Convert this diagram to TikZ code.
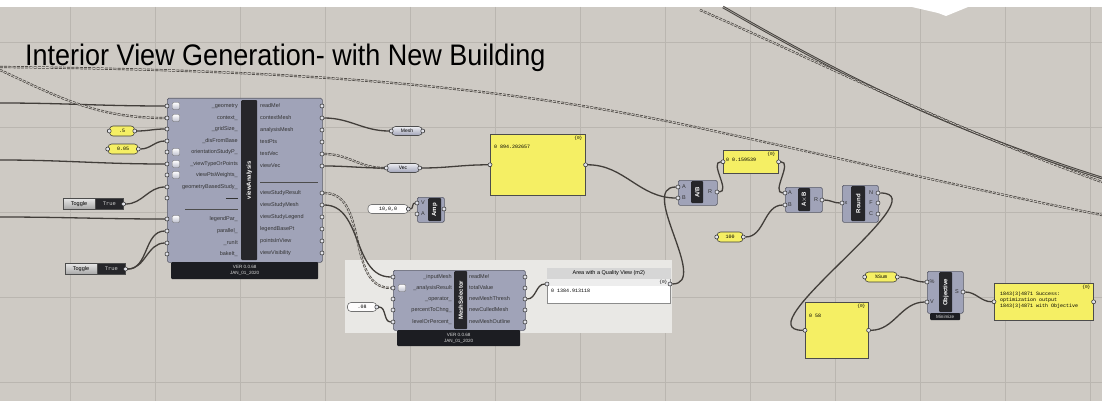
\documentclass[tikz,border=0pt]{standalone}
\usepackage{fontspec}
\setmainfont{Liberation Sans}
\newfontfamily\panelfont{Liberation Mono}
\usepackage{tikz}
\usetikzlibrary{positioning,calc}

\definecolor{canvas}{RGB}{206,202,196}
\definecolor{gridcol}{RGB}{186,182,176}
\definecolor{compfill}{RGB}{160,163,184}
\definecolor{compedge}{RGB}{88,90,104}
\definecolor{stripdark}{RGB}{38,38,42}
\definecolor{bardark}{RGB}{28,29,34}
\definecolor{panelyellow}{RGB}{245,239,100}
\definecolor{wirecol}{RGB}{66,62,58}
\definecolor{groupfill}{RGB}{233,232,229}

\pgfdeclarelayer{bg}
\pgfdeclarelayer{wires}
\pgfsetlayers{bg,wires,main}

\begin{document}
\begin{tikzpicture}[x=1pt,y=-1pt,
    comp/.style={draw=compedge,fill=compfill,rounded corners=1.5pt,line width=0.6pt,anchor=north west,inner sep=0pt},
    namestrip/.style={fill=stripdark,rounded corners=1pt,anchor=north west,inner sep=0pt},
    stripname/.style={text=white,font=\fontsize{6}{6}\selectfont\bfseries,rotate=90,inner sep=0pt},
    verbar/.style={fill=bardark,anchor=north west,inner sep=0pt,rounded corners=1pt},
    vertxt/.style={text=white!85!black,font=\fontsize{4.6}{6}\selectfont,align=center,inner sep=0pt},
    inlab/.style={anchor=east,inner sep=0pt,font=\fontsize{5.5}{6}\selectfont,text=black!80},
    outlab/.style={anchor=west,inner sep=0pt,font=\fontsize{5.5}{6}\selectfont,text=black!80},
    grip/.style={circle,draw=black!85,fill=white!70!compfill,line width=0.5pt,inner sep=0pt,minimum size=4pt},
    icon/.style={draw=black!55,top color=white,bottom color=compfill!70!white,rounded corners=1pt,inner sep=0pt,minimum size=7pt},
    wire/.style={draw=wirecol,line width=1.3pt},
    tree/.style={draw=wirecol,line width=0.7pt,double=canvas,double distance=0.8pt,dash pattern=on 3pt off 1.2pt},
    slider/.style={draw=black!75,fill=panelyellow,rounded corners=3.5pt,line width=0.6pt,inner sep=0pt,minimum height=10pt,font=\fontsize{5}{5}\panelfont},
    whitecap/.style={slider,fill=white!95!canvas,draw=black!55},
    capsule/.style={draw=black!70,top color=white!80!compfill,bottom color=compfill,rounded corners=4pt,line width=0.6pt,inner sep=0pt,minimum height=9pt,font=\fontsize{5}{5}\selectfont},
    panel/.style={draw=black!70,fill=panelyellow,line width=0.6pt,anchor=north west,inner sep=0pt},
    paneltxt/.style={anchor=north west,inner sep=0pt,font=\fontsize{5}{6}\panelfont,align=left},
    panelhdr/.style={anchor=north east,inner sep=0pt,font=\fontsize{4.5}{5}\panelfont},
    togname/.style={draw=black!70,top color=white!90!black,bottom color=black!35,inner sep=0pt,minimum width=32pt,minimum height=11pt,font=\fontsize{5.5}{6}\selectfont},
    togval/.style={draw=black!70,fill=stripdark,text=white!80!black,inner sep=0pt,minimum width=28pt,minimum height=11pt,font=\fontsize{5.5}{6}\panelfont}
  ]
\useasboundingbox (0,0) rectangle (1102,401);

% canvas and grid
\begin{pgfonlayer}{bg}
  \fill[white] (0,0) rectangle (1102,401);
  \fill[canvas] (0,7) rectangle (1102,401);
  \foreach \gx in {70,155,...,1090} \draw[gridcol,line width=0.6pt] (\gx,7) -- (\gx,401);
  \foreach \gy in {42,127,...,382} \draw[gridcol,line width=0.6pt] (0,\gy) -- (1102,\gy);
  \fill[white] (912,7) -- (968,7) -- (946,16) -- (938,13) -- cycle;
  \node[anchor=base west,inner sep=0pt,yscale=1.1,font=\fontsize{27}{27}\selectfont] (title) at (25,66) {Interior View Generation- with New Building};
  \fill[groupfill] (345,260) rectangle (672,333);
\end{pgfonlayer}

% viewAnalysis
\node[comp,minimum width=155pt,minimum height=164pt] (va) at (167,98) {};
\node[namestrip,minimum width=16pt,minimum height=160pt] (vastrip) at (241,100) {};
\node[stripname] (vaname) at (vastrip.center) {viewAnalysis};
\node[verbar,minimum width=147pt,minimum height=17pt] (vaver) at (171,262) {};
\node[vertxt] (vavertxt) at (vaver.center) {VER 0.0.68\\JAN\_01\_2020};
\foreach \y/\lab [count=\i] in {106/\_geometry,118/context\_,129/\_gridSize\_,141/\_disFromBase,152/orientationStudyP\_,164/\_viewTypeOrPoints,175/viewPtsWeights\_,187/geometryBasedStudy\_,198/\rule{12pt}{0.5pt},219/legendPar\_,231/parallel\_,243/\_runIt,254/bakeIt\_}{
  \node[inlab] (vainlab\i) at (238,\y) {\lab};
  \node[grip] (vain\i) at (167,\y) {};
}
\foreach \y/\lab [count=\i] in {106/readMe!,118/contextMesh,130/analysisMesh,142/testPts,154/testVec,166/viewVec,193/viewStudyResult,205/viewStudyMesh,217/viewStudyLegend,229/legendBasePt,241/pointsInView,253/viewVisibility}{
  \node[outlab] (vaoutlab\i) at (260,\y) {\lab};
  \node[grip] (vaout\i) at (322,\y) {};
}
\foreach \y [count=\i] in {106,118,152,164,175,219} \node[icon] (vaicon\i) at (176,\y) {};
\draw[black!70,line width=0.6pt] (185,209) -- (238,209);
\draw[black!70,line width=0.6pt] (260,182) -- (318,182);

% inputs on the left
\node[slider,minimum width=25pt] (sl1) at (122,131) {.5};
\node[slider,minimum width=30pt] (sl2) at (123,149) {0.05};
\node[grip] (sl1i) at (sl1.west) {};
\node[grip] (sl1o) at (sl1.east) {};
\node[grip] (sl2i) at (sl2.west) {};
\node[grip] (sl2o) at (sl2.east) {};
\node[togname] (tg1) at (79,204) {Toggle};
\node[togval,right=0pt of tg1] (tg1v) {True};
\node[grip] (tg1o) at (tg1v.east) {};
\node[togname] (tg2) at (81,269) {Toggle};
\node[togval,right=0pt of tg2] (tg2v) {True};
\node[grip] (tg2o) at (tg2v.east) {};

% params after viewAnalysis
\node[capsule,minimum width=31pt] (mesh) at (407,131) {Mesh};
\node[grip] (meshin) at (mesh.west) {};
\node[grip] (meshout) at (mesh.east) {};
\node[capsule,minimum width=33pt] (vec) at (403,168) {Vec};
\node[grip] (vecin) at (vec.west) {};
\node[grip] (vecout) at (vec.east) {};
\node[whitecap,minimum width=40pt,minimum height=9pt] (v10) at (388,209) {10,0,0};
\node[grip] (v10o) at (v10.east) {};
\node[comp,minimum width=27pt,minimum height=25pt] (amp) at (417,197) {};
\node[namestrip,minimum width=13pt,minimum height=23pt] (ampstrip) at (428,198) {};
\node[stripname] (ampname) at (ampstrip.center) {Amp};
\node[inlab,anchor=center] (ampl1) at (423,203) {V};
\node[inlab,anchor=center] (ampl2) at (423,214) {A};
\node[grip] (ampin1) at (417,203) {};
\node[grip] (ampin2) at (417,214) {};
\node[grip] (ampout) at (444,209) {};

% total area panel
\node[panel,minimum width=95pt,minimum height=61pt] (p1) at (490,134) {};
\node[panelhdr] (p1h) at ($(p1.north east)+(-3,2)$) {\{0\}};
\node[paneltxt] (p1t) at ($(p1.north west)+(4,11)$) {0 894.202657};
\node[grip] (p1in) at (p1.west) {};
\node[grip] (p1out) at (p1.east) {};

% MeshSelector
\node[comp,minimum width=132pt,minimum height=60pt] (ms) at (393,270) {};
\node[namestrip,minimum width=13pt,minimum height=58pt] (msstrip) at (454,271) {};
\node[stripname] (msname) at (msstrip.center) {MeshSelector};
\node[verbar,minimum width=123pt,minimum height=16pt] (msver) at (397,330) {};
\node[vertxt] (msvertxt) at (msver.center) {VER 0.0.68\\JAN\_01\_2020};
\foreach \y/\lab [count=\i] in {277/\_inputMesh,288/\_analysisResult,299/\_operator\_,310/percentToChng\_,322/levelOrPercent\_}{
  \node[inlab] (msinlab\i) at (452,\y) {\lab};
  \node[grip] (msin\i) at (393,\y) {};
}
\foreach \y/\lab [count=\i] in {277/readMe!,288/totalValue,299/newMeshThresh,310/newCulledMesh,322/newMeshOutline}{
  \node[outlab] (msoutlab\i) at (469,\y) {\lab};
  \node[grip] (msout\i) at (525,\y) {};
}
\node[icon] (msicon) at (402,288) {};
\node[whitecap,minimum width=29pt,minimum height=9pt] (slms) at (362,307) {.08};
\node[grip] (slmso) at (slms.east) {};

% area panel
\node[panel,fill=white,draw=black!45,minimum width=123pt,minimum height=35pt] (area) at (547,268) {};
\fill[black!16] (area.north west) rectangle ($(area.north east)+(0,11)$);
\fill[black!7] ($(area.north west)+(0.3,11)$) rectangle ($(area.north east)+(-0.3,18)$);
\node[inner sep=0pt,font=\fontsize{5.5}{6}\selectfont] (areattl) at ($(area.north)+(0,5.5)$) {Area with a Quality View (m2)};
\node[panelhdr] (areah) at ($(area.north east)+(-3,12)$) {\{0\}};
\node[paneltxt] (areat) at ($(area.north west)+(4,21)$) {0 1384.913118};
\node[grip] (areain) at (547,284) {};
\node[grip] (areaout) at (670,284) {};

% ratio chain
\node[comp,minimum width=39pt,minimum height=25pt] (div) at (678,180) {};
\node[namestrip,minimum width=12pt,minimum height=22pt] (divstrip) at (691,181) {};
\node[stripname] (divname) at (divstrip.center) {A/B};
\node[inlab,anchor=center] (divl1) at (684,187) {A};
\node[inlab,anchor=center] (divl2) at (684,198) {B};
\node[inlab,anchor=center] (divl3) at (710,192) {R};
\node[grip] (divin1) at (678,187) {};
\node[grip] (divin2) at (678,198) {};
\node[grip] (divout) at (717,192) {};

\node[panel,minimum width=55pt,minimum height=23pt] (p2) at (723,150) {};
\node[panelhdr] (p2h) at ($(p2.north east)+(-3,2)$) {\{0\}};
\node[paneltxt] (p2t) at ($(p2.north west)+(3,8)$) {0 0.159539};
\node[grip] (p2in) at (p2.west) {};
\node[grip] (p2out) at (p2.east) {};

\node[comp,minimum width=37pt,minimum height=25pt] (mul) at (785,187) {};
\node[namestrip,minimum width=12pt,minimum height=23pt] (mulstrip) at (798,188) {};
\node[stripname] (mulname) at (mulstrip.center) {A$\times$B};
\node[inlab,anchor=center] (mull1) at (790,193) {A};
\node[inlab,anchor=center] (mull2) at (790,205) {B};
\node[inlab,anchor=center] (mull3) at (816,200) {R};
\node[grip] (mulin1) at (785,193) {};
\node[grip] (mulin2) at (785,205) {};
\node[grip] (mulout) at (822,200) {};
\node[slider,minimum width=26pt] (sl100) at (730,237) {100};
\node[grip] (sl100i) at (sl100.west) {};
\node[grip] (sl100o) at (sl100.east) {};

\node[comp,minimum width=36pt,minimum height=37pt] (rnd) at (842,185) {};
\node[namestrip,minimum width=14pt,minimum height=35pt] (rndstrip) at (851,186) {};
\node[stripname] (rndname) at (rndstrip.center) {Round};
\node[inlab,anchor=center] (rndl0) at (846,203) {x};
\node[inlab,anchor=center] (rndl1) at (871,193) {N};
\node[inlab,anchor=center] (rndl2) at (871,203) {F};
\node[inlab,anchor=center] (rndl3) at (871,214) {C};
\node[grip] (rndin) at (842,203) {};
\node[grip] (rndout1) at (878,193) {};
\node[grip] (rndout2) at (878,203) {};
\node[grip] (rndout3) at (878,214) {};

\node[panel,minimum width=63pt,minimum height=56pt] (p3) at (805,302) {};
\node[panelhdr] (p3h) at ($(p3.north east)+(-3,2)$) {\{0\}};
\node[paneltxt] (p3t) at ($(p3.north west)+(4,12)$) {0 58};
\node[grip] (p3in) at (p3.west) {};
\node[grip] (p3out) at (p3.east) {};

% objective and result
\node[slider,minimum width=32pt] (sum) at (881,277) {\%Sum};
\node[grip] (sumi) at (sum.west) {};
\node[grip] (sumo) at (sum.east) {};
\node[comp,minimum width=36pt,minimum height=42pt] (obj) at (927,271) {};
\node[namestrip,minimum width=13pt,minimum height=40pt] (objstrip) at (939,272) {};
\node[stripname] (objname) at (objstrip.center) {Objective};
\node[verbar,minimum width=30pt,minimum height=7pt] (objbar) at (930,313) {};
\node[vertxt] (objbartxt) at (objbar.center) {Minimize};
\node[inlab,anchor=center] (objl1) at (932,282) {\%};
\node[inlab,anchor=center] (objl2) at (932,302) {V};
\node[inlab,anchor=center] (objl3) at (957,292) {S};
\node[grip] (objin1) at (927,282) {};
\node[grip] (objin2) at (927,302) {};
\node[grip] (objout) at (963,292) {};

\node[panel,minimum width=99pt,minimum height=37pt] (res) at (994,283) {};
\node[panelhdr] (resh) at ($(res.north east)+(-3,2)$) {\{0\}};
\node[paneltxt] (rest) at ($(res.north west)+(6,9)$) {1843(3)4871 Success:\\optimization output\\1843(3)4871 with Objective};
\node[grip] (resin) at (res.west) {};
\node[grip] (resout) at (res.east) {};

% connectors
\coordinate (lgeo) at (0,103);
\coordinate (lctx) at (0,70);
\coordinate (lview) at (0,160);
\coordinate (lleg) at (0,217);
\coordinate (farA) at (0,67);
\coordinate (farB) at (1102,215);
\coordinate (farC) at (723,7);
\coordinate (farD) at (1102,178);
\coordinate (farE) at (700,10);
\coordinate (farF) at (1102,182);
\begin{pgfonlayer}{wires}
  \draw[wire] (lgeo) to[out=0,in=180] (vain1);
  \draw[tree] (lctx) to[out=-25,in=180] (vain2);
  \draw[wire] (lview) to[out=0,in=180] (vain6);
  \draw[wire] (lleg) to[out=0,in=180] (vain10);
  \draw[wire] (sl1o) to[out=0,in=180] (vain3);
  \draw[wire] (sl2o) to[out=0,in=180] (vain4);
  \draw[wire] (tg1o) to[out=0,in=180] (vain8);
  \draw[wire] (tg2o) to[out=0,in=180] (vain11);
  \draw[wire] (tg2o) to[out=0,in=180] (vain12);
  \draw[wire] (vaout2) to[out=0,in=180] (meshin);
  \draw[tree] (vaout5) to[out=0,in=180] (vecin);
  \draw[wire] (vaout6) to[out=0,in=180] (vecin);
  \draw[tree] (vaout7) to[out=0,in=180] (msin2);
  \draw[wire] (vaout8) to[out=0,in=180] (msin1);
  \draw[wire] (vecout) to[out=0,in=180] (p1in);
  \draw[wire] (v10o) to[out=0,in=180] (ampin1);
  \draw[wire] (slmso) to[out=0,in=180] (msin5);
  \draw[wire] (msout3) to[out=0,in=180] (areain);
  \draw[wire] (areaout) to[out=0,in=180] (divin1);
  \draw[wire] (p1out) to[out=0,in=180] (divin2);
  \draw[wire] (divout) to[out=0,in=180] (p2in);
  \draw[wire] (p2out) to[out=0,in=180] (mulin1);
  \draw[wire] (sl100o) to[out=0,in=180] (mulin2);
  \draw[wire] (mulout) to[out=0,in=180] (rndin);
  \draw[wire] (rndout1) to[out=0,in=180] (p3in);
  \draw[wire] (sumo) to[out=0,in=180] (objin1);
  \draw[wire] (p3out) to[out=0,in=180] (objin2);
  \draw[wire] (objout) to[out=0,in=180] (resin);
  % long wires across the canvas
  \draw[tree] (farA) .. controls (300,70) and (500,85) .. (700,128) .. controls (850,160) and (950,185) .. (farB);
  \draw[wire,line width=0.9pt,double=canvas!80!black,double distance=0.7pt] (farC) .. controls (850,80) and (950,130) .. (farD);
  \draw[tree] (farE) .. controls (820,62) and (950,128) .. (farF);
\end{pgfonlayer}
\end{tikzpicture}
\end{document}
